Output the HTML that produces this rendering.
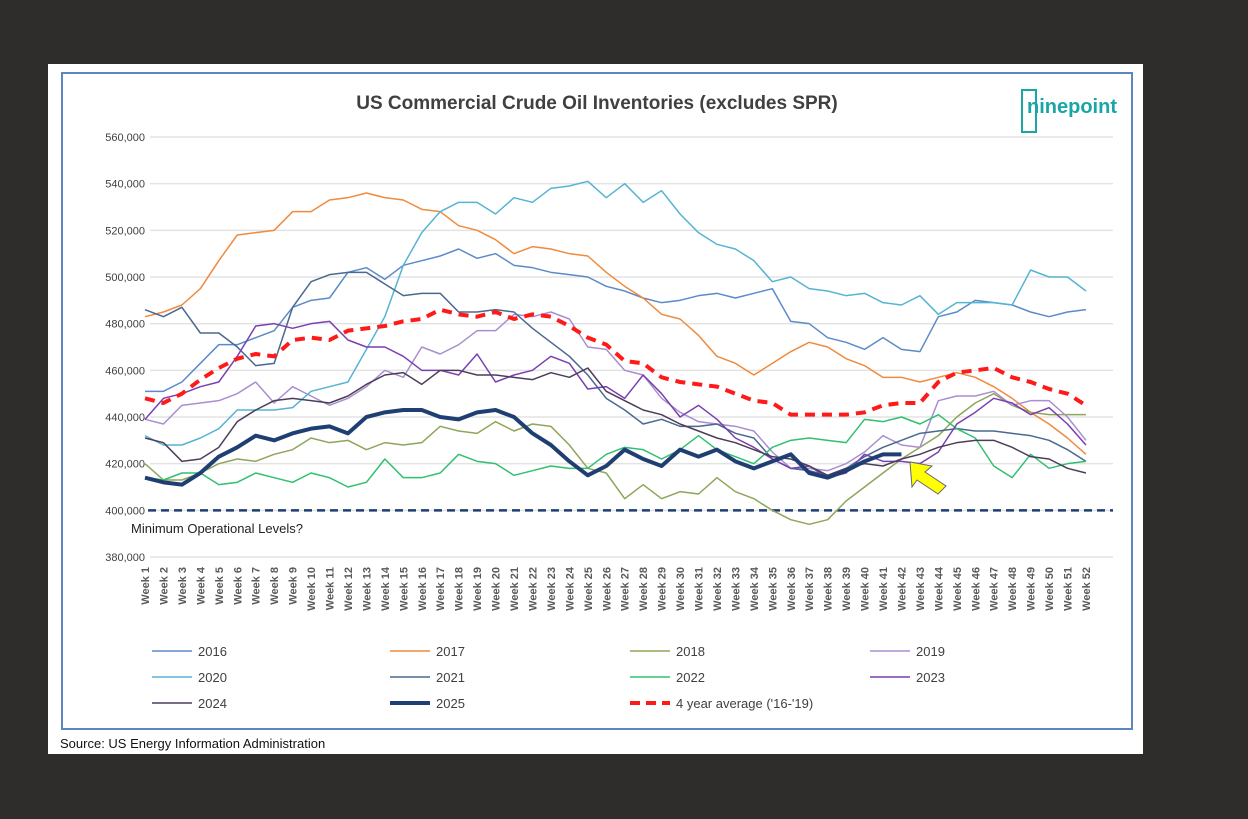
<!DOCTYPE html>
<html><head><meta charset="utf-8"><style>
body{margin:0;background:#2f2d2c;width:1248px;height:819px;overflow:hidden;font-family:"Liberation Sans",sans-serif}
#panel{position:absolute;left:48px;top:64px;width:1095px;height:690px;background:#fff}
svg{position:absolute;left:0;top:0}
</style></head><body>
<div id="panel"></div>
<svg id="chart" width="1248" height="819"></svg>
<script>
const weeks=[];for(let i=1;i<=52;i++)weeks.push('Week '+i);
const yTicks=[380,400,420,440,460,480,500,520,540,560];
const s2016=[451,451,455,463,471,471,474,477,487,490,491,502,504,499,505,507,509,512,508,510,505,504,502,501,500,496,494,491,489,490,492,493,491,493,495,481,480,474,472,469,474,469,468,483,485,490,489,488,485,483,485,486];
const s2017=[483,485,488,495,507,518,519,520,528,528,533,534,536,534,533,529,528,522,520,516,510,513,512,510,509,502,496,491,484,482,475,466,463,458,463,468,472,470,465,462,457,457,455,457,459,457,453,448,442,437,431,424];
const s2018=[420,413,413,416,420,422,421,424,426,431,429,430,426,429,428,429,436,434,433,438,434,437,436,428,418,416,405,411,405,408,407,414,408,405,400,396,394,396,404,410,416,422,427,432,440,446,450,445,442,441,441,441];
const s2019=[439,437,445,446,447,450,455,446,453,449,445,448,453,460,457,470,467,471,477,477,484,483,485,482,470,469,460,458,448,442,438,437,436,434,425,418,418,417,420,425,432,428,427,447,449,449,451,445,447,447,440,430];
const s2020=[432,428,428,431,435,443,443,443,444,451,453,455,469,483,505,519,528,532,532,527,534,532,538,539,541,534,540,532,537,527,519,514,512,507,498,500,495,494,492,493,489,488,492,484,489,489,489,488,503,500,500,494];
const s2021=[486,483,487,476,476,470,462,463,487,498,501,502,502,497,492,493,493,485,485,486,485,478,472,466,458,448,443,437,439,436,436,437,433,431,422,418,417,415,418,423,427,430,433,434,435,434,434,433,432,430,426,421];
const s2022=[414,413,416,416,411,412,416,414,412,416,414,410,412,422,414,414,416,424,421,420,415,417,419,418,418,424,427,426,422,426,432,426,423,420,427,430,431,430,429,439,438,440,437,441,435,431,419,414,424,418,420,421];
const s2023=[439,448,450,453,455,466,479,480,478,480,481,473,470,470,466,460,460,458,467,455,458,460,466,463,452,453,448,458,450,440,445,439,431,427,422,418,419,414,416,424,421,421,420,425,437,442,448,446,441,444,437,428];
const s2024=[431,429,421,422,427,438,443,447,448,447,446,449,454,458,459,454,460,460,458,458,457,456,459,457,461,451,447,443,441,437,434,431,429,426,423,422,419,415,418,420,419,422,424,427,429,430,430,427,423,422,418,416];
const s2025=[414,412,411,416,423,427,432,430,433,435,436,433,440,442,443,443,440,439,442,443,440,433,428,421,415,419,426,422,419,426,423,426,421,418,421,424,416,414,417,421,424,424];
const sAvg=[448,446,450,456,461,465,467,466,473,474,473,477,478,479,481,482,486,484,483,485,482,484,483,479,474,471,464,463,457,455,454,453,450,447,446,441,441,441,441,442,445,446,446,455,459,460,461,457,455,452,450,445];
const minLevel=400;
const NS='http://www.w3.org/2000/svg';
const svg=document.getElementById('chart');
const X=i=>145+i*18.45;
const Y=v=>557-(v-380)*420/180;
function el(t,a,txt){const e=document.createElementNS(NS,t);for(const k in a)e.setAttribute(k,a[k]);if(txt!==undefined)e.textContent=txt;svg.appendChild(e);return e;}
let b=el('rect',{x:62,y:73,width:1070,height:656,fill:'none',stroke:'#5b86c0','stroke-width':2});


let t=el('text',{x:597,y:109,'text-anchor':'middle','font-size':19,'font-weight':'bold',fill:'#404040'},'US Commercial Crude Oil Inventories (excludes SPR)');


el('rect',{x:1022,y:90,width:14,height:42,fill:'none',stroke:'#1aa6a6','stroke-width':2});
let lg=el('text',{x:1027,y:113,'font-size':20,'font-weight':'bold',fill:'#1aa6a6'},'ninepoint');


yTicks.forEach(v=>{
 const g=el('line',{x1:150,x2:1113,y1:Y(v),y2:Y(v),stroke:'#e3e3e3','stroke-width':1.5});
 
 
 const l=el('text',{x:145,y:Y(v)+4,'text-anchor':'end','font-size':11,fill:'#404040'},v.toLocaleString('en-US')+',000');
 
 
});
weeks.forEach((w,i)=>{
 const l=el('text',{x:0,y:0,'text-anchor':'end','font-size':11,'font-weight':'bold',fill:'#595959',transform:`translate(${X(i)+4},${567}) rotate(-90)`},w);
 
 
});
const ml=el('line',{x1:148,x2:1113,y1:Y(minLevel),y2:Y(minLevel),stroke:'#1f3f73','stroke-width':2.5,'stroke-dasharray':'8,5'});


const mt=el('text',{x:131,y:533,'font-size':13,fill:'#222'},'Minimum Operational Levels?');


const series=[
 ['2016',s2016,'#5a8bc8',1.5,null],['2017',s2017,'#f08a3c',1.5,null],['2018',s2018,'#8fa55a',1.5,null],
 ['2019',s2019,'#a98fd0',1.5,null],['2020',s2020,'#55b4d4',1.5,null],['2021',s2021,'#4a6890',1.5,null],
 ['2022',s2022,'#30c070',1.5,null],['2023',s2023,'#7a3fb0',1.5,null],['2024',s2024,'#4d3d5a',1.5,null],
 ['2025',s2025,'#1f3f73',4,null],["4 year average ('16-'19)",sAvg,'#ff1a1a',4,'10,7']];
series.forEach(([n,d,c,w,da])=>{
 const p=el('polyline',{points:d.map((v,i)=>X(i)+','+Y(v)).join(' '),fill:'none',stroke:c,'stroke-width':w,'stroke-linejoin':'round'});
 if(da)p.setAttribute('stroke-dasharray',da);
 
 
});
const ar=el('polygon',{points:'910,462 932,466 925,472 946,486 938,494 917,480 912,487',fill:'#ffff00',stroke:'#667','stroke-width':1});


const cols=[152,390,630,870],rows=[651,677,703];
series.forEach(([n,d,c,w,da],i)=>{
 const x=cols[i%4],y=rows[Math.floor(i/4)];
 const ll=el('line',{x1:x,x2:x+40,y1:y,y2:y,stroke:c,'stroke-width':w});
 if(da)ll.setAttribute('stroke-dasharray','10,6');
 
 
 const lt=el('text',{x:x+46,y:y+5,'font-size':13,fill:'#404040'},n);
 
 
});
const src=el('text',{x:60,y:748,'font-size':13,fill:'#111'},'Source: US Energy Information Administration');


</script>
</body></html>
